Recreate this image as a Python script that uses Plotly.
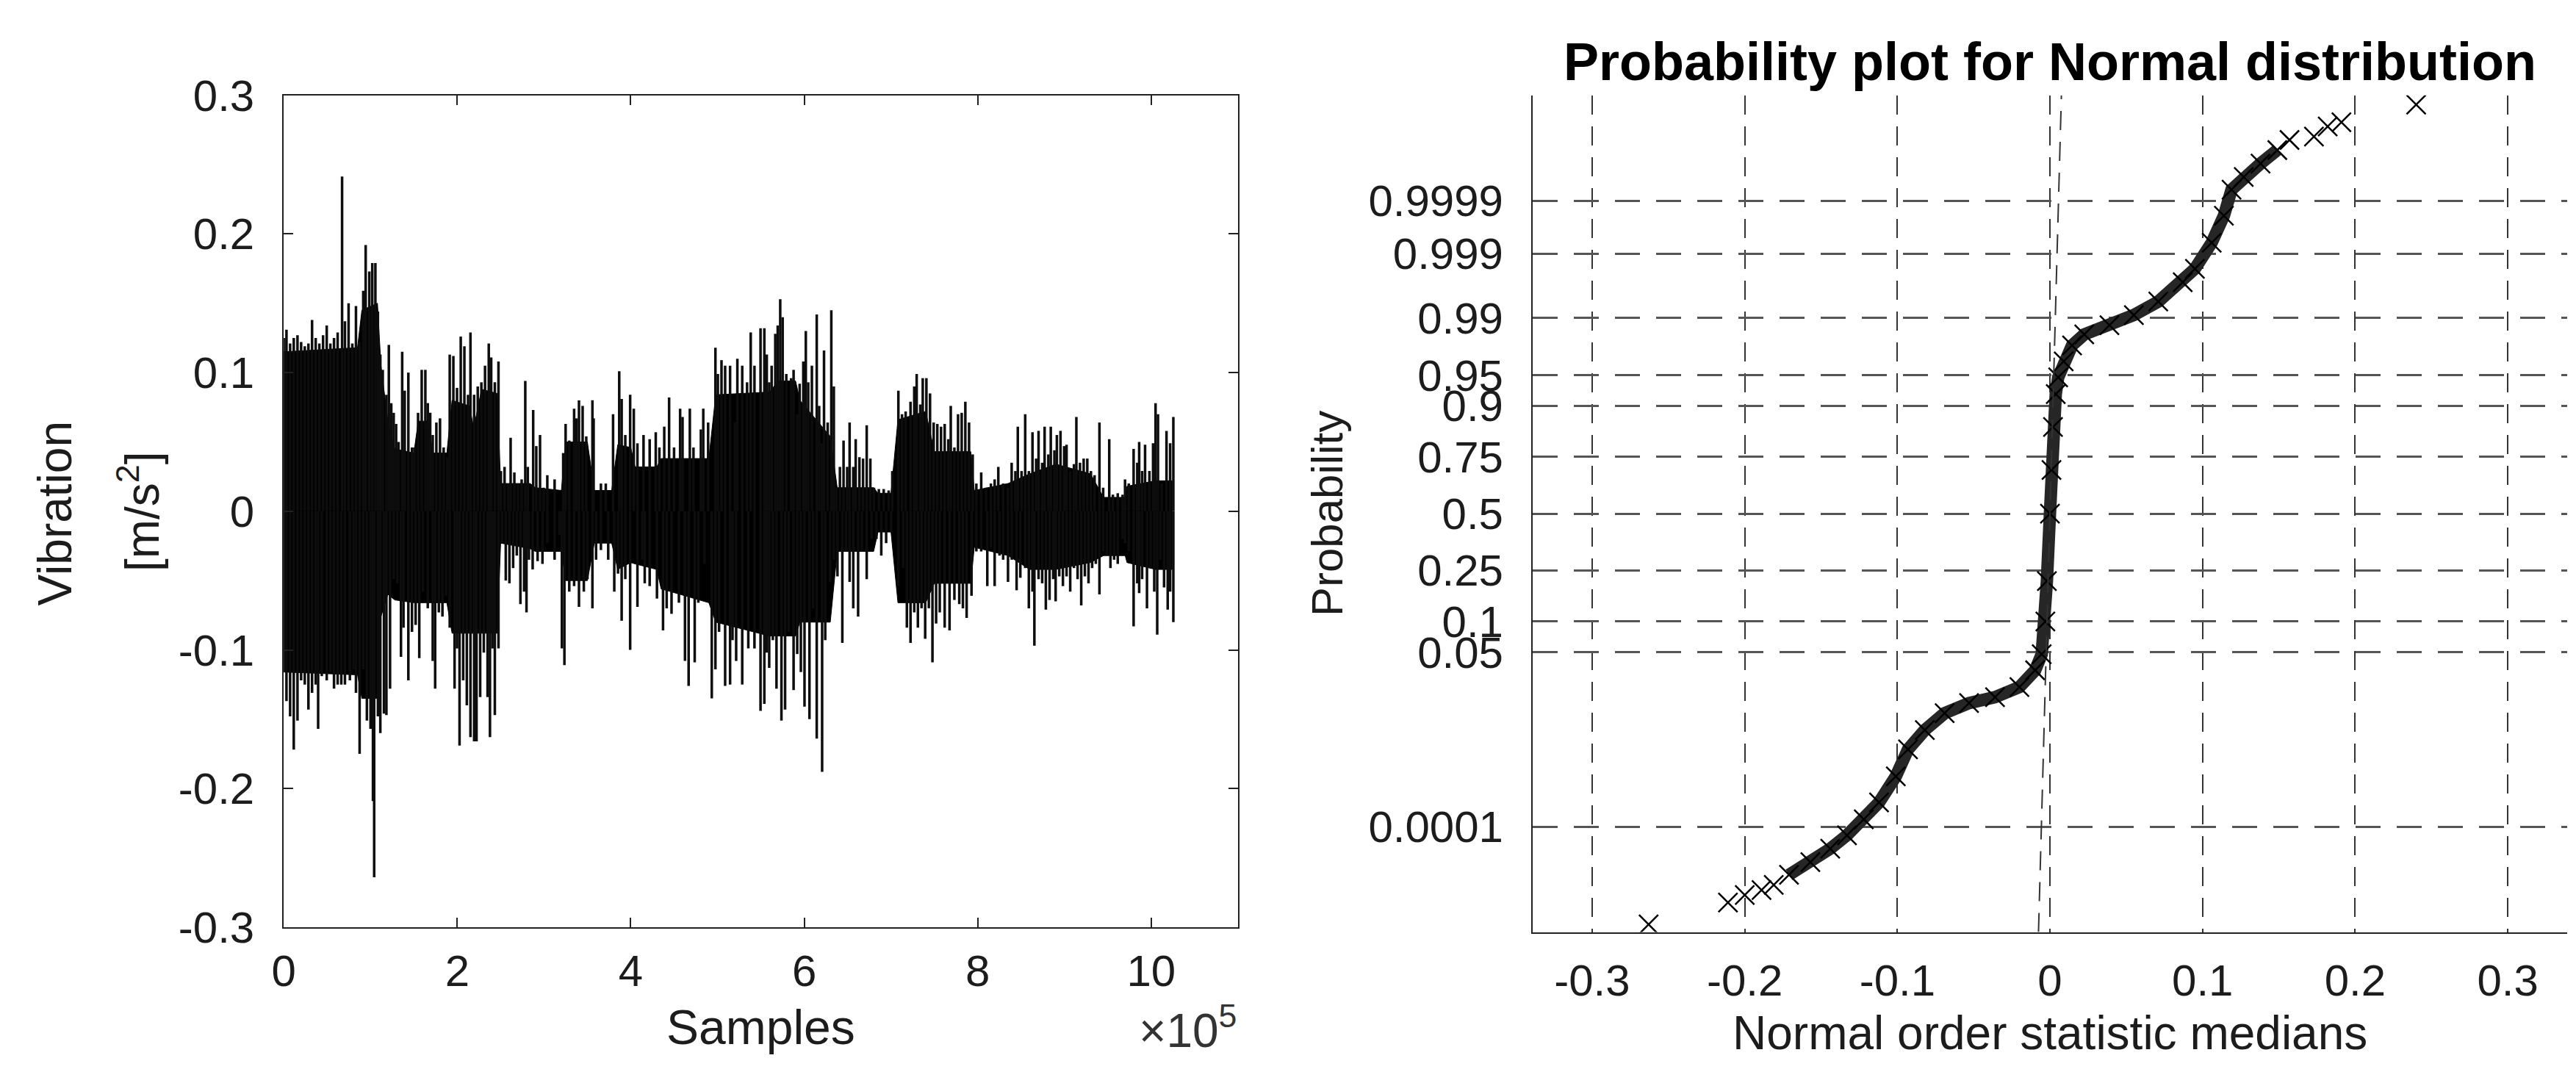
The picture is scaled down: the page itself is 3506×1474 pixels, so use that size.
import plotly.graph_objects as go
from statistics import NormalDist

# ================= Left panel: vibration signal =========
# sample positions are in units of 10^5 samples (the axis multiplier shown on the chart)
core_pos = [0, 0.85, 0.90, 1.08, 1.12, 1.20, 1.28, 1.50, 1.55, 1.66,
            1.72, 1.88, 1.94, 2.14, 2.19, 2.28, 2.46, 2.50, 2.84,
            2.90, 3.20, 3.25, 3.50, 3.58, 3.78, 3.85, 4.00, 4.05,
            4.30, 4.35, 4.90, 4.98, 5.60, 5.70, 5.90, 5.95, 6.30,
            6.38, 6.80, 6.85, 7.00, 7.08, 7.40, 7.50, 7.92, 7.96,
            8.35, 8.60, 8.90, 9.30, 9.45, 9.70, 9.72, 10.05, 10.24]
core_upper = [0.115, 0.118, 0.145, 0.150, 0.105, 0.065, 0.045, 0.042, 0.065, 0.065,
              0.042, 0.042, 0.080, 0.076, 0.060, 0.088, 0.085, 0.020, 0.020,
              0.017, 0.015, 0.050, 0.050, 0.015, 0.015, 0.048, 0.046, 0.032,
              0.032, 0.038, 0.038, 0.084, 0.086, 0.094, 0.094, 0.080, 0.054,
              0.017, 0.017, 0.013, 0.013, 0.066, 0.072, 0.043, 0.043, 0.015,
              0.020, 0.027, 0.034, 0.027, 0.010, 0.010, 0.018, 0.022, 0.022]
core_lower = [-0.116, -0.118, -0.135, -0.135, -0.076, -0.060, -0.064, -0.066, -0.066, -0.066,
              -0.066, -0.066, -0.088, -0.088, -0.088, -0.088, -0.088, -0.023, -0.027,
              -0.029, -0.029, -0.050, -0.050, -0.023, -0.023, -0.042, -0.037, -0.038,
              -0.042, -0.056, -0.066, -0.080, -0.090, -0.090, -0.090, -0.080, -0.080,
              -0.029, -0.029, -0.015, -0.015, -0.066, -0.066, -0.052, -0.052, -0.026,
              -0.032, -0.042, -0.042, -0.037, -0.032, -0.032, -0.037, -0.042, -0.042]

# positive excursions (position, peak)
peak_pos = [0.003, 0.031, 0.073, 0.115, 0.158, 0.200, 0.242, 0.284, 0.326, 0.368, 0.410, 0.453,
            0.495, 0.537, 0.579, 0.621, 0.672, 0.705, 0.747, 0.790, 0.832, 0.874, 0.916, 0.944,
            0.986, 1.020, 1.056, 1.085, 1.113, 1.141, 1.183, 1.211, 1.239, 1.267, 1.295, 1.323,
            1.365, 1.394, 1.436, 1.478, 1.506, 1.548, 1.590, 1.632, 1.660, 1.688, 1.717, 1.759,
            1.801, 1.843, 1.885, 1.913, 1.955, 1.997, 2.040, 2.082, 2.124, 2.152, 2.194, 2.236,
            2.278, 2.320, 2.363, 2.391, 2.433, 2.475, 2.503, 2.545, 2.587, 2.615, 2.658, 2.700,
            2.742, 2.784, 2.813, 2.875, 2.911, 2.954, 2.996, 3.038, 3.122, 3.221, 3.249, 3.291,
            3.347, 3.375, 3.403, 3.445, 3.487, 3.558, 3.572, 3.656, 3.712, 3.796, 3.867, 3.895,
            3.937, 3.993, 4.035, 4.077, 4.147, 4.218, 4.288, 4.330, 4.386, 4.442, 4.499, 4.569,
            4.597, 4.681, 4.723, 4.808, 4.836, 4.892, 4.976, 5.004, 5.046, 5.088, 5.145, 5.201,
            5.229, 5.285, 5.341, 5.383, 5.426, 5.496, 5.540, 5.568, 5.596, 5.624, 5.666, 5.694,
            5.723, 5.751, 5.793, 5.849, 5.877, 5.919, 5.947, 5.989, 6.018, 6.046, 6.088, 6.144,
            6.172, 6.200, 6.228, 6.270, 6.312, 6.341, 6.369, 6.411, 6.453, 6.495, 6.523, 6.565,
            6.593, 6.636, 6.678, 6.720, 6.762, 6.804, 6.860, 6.916, 6.973, 7.015, 7.085, 7.127,
            7.169, 7.225, 7.268, 7.296, 7.338, 7.366, 7.408, 7.450, 7.492, 7.534, 7.577, 7.619,
            7.661, 7.689, 7.731, 7.773, 7.815, 7.857, 7.900, 7.942, 7.984, 8.040, 8.096, 8.152,
            8.195, 8.237, 8.293, 8.349, 8.391, 8.434, 8.462, 8.505, 8.547, 8.589, 8.631, 8.673,
            8.701, 8.743, 8.771, 8.814, 8.842, 8.884, 8.912, 8.954, 8.996, 9.024, 9.066, 9.109,
            9.137, 9.179, 9.221, 9.263, 9.305, 9.347, 9.403, 9.446, 9.516, 9.558, 9.614, 9.670,
            9.698, 9.741, 9.797, 9.839, 9.861, 9.895, 9.929, 9.979, 10.021, 10.050, 10.078,
            10.120, 10.176, 10.218, 10.255]
peak_val = [0.125, 0.131, 0.121, 0.125, 0.127, 0.122, 0.119, 0.121, 0.138, 0.125, 0.121, 0.127,
            0.134, 0.121, 0.125, 0.129, 0.2415, 0.137, 0.150, 0.121, 0.148, 0.122, 0.159, 0.192,
            0.173, 0.179, 0.179, 0.144, 0.113, 0.102, 0.084, 0.120, 0.078, 0.071, 0.063, 0.050,
            0.115, 0.087, 0.100, 0.046, 0.046, 0.071, 0.102, 0.102, 0.078, 0.071, 0.055, 0.064,
            0.067, 0.046, 0.039, 0.113, 0.112, 0.089, 0.126, 0.119, 0.084, 0.129, 0.084, 0.090,
            0.093, 0.105, 0.121, 0.111, 0.093, 0.108, 0.029, 0.032, 0.020, 0.053, 0.028, 0.020,
            0.023, 0.094, 0.032, 0.073, 0.047, 0.055, 0.017, 0.026, 0.023, 0.042, 0.063, 0.051,
            0.074, 0.067, 0.080, 0.076, 0.054, 0.080, 0.067, 0.020, 0.020, 0.070, 0.101, 0.081,
            0.055, 0.084, 0.074, 0.049, 0.055, 0.052, 0.057, 0.046, 0.061, 0.082, 0.046, 0.074,
            0.068, 0.074, 0.046, 0.059, 0.074, 0.064, 0.118, 0.099, 0.109, 0.105, 0.105, 0.064,
            0.110, 0.105, 0.093, 0.129, 0.105, 0.132, 0.132, 0.113, 0.093, 0.105, 0.128, 0.134,
            0.153, 0.140, 0.099, 0.096, 0.102, 0.070, 0.092, 0.108, 0.130, 0.093, 0.105, 0.142,
            0.076, 0.049, 0.116, 0.064, 0.145, 0.090, 0.017, 0.032, 0.051, 0.032, 0.064, 0.032,
            0.052, 0.039, 0.038, 0.062, 0.038, 0.017, 0.016, 0.016, 0.015, 0.029, 0.087, 0.070,
            0.072, 0.079, 0.090, 0.099, 0.077, 0.096, 0.096, 0.085, 0.064, 0.063, 0.061, 0.063,
            0.052, 0.076, 0.046, 0.070, 0.071, 0.079, 0.064, 0.041, 0.020, 0.028, 0.017, 0.020,
            0.023, 0.032, 0.020, 0.017, 0.035, 0.029, 0.061, 0.029, 0.070, 0.029, 0.057, 0.038,
            0.058, 0.035, 0.061, 0.041, 0.061, 0.044, 0.055, 0.058, 0.047, 0.048, 0.029, 0.034,
            0.068, 0.035, 0.038, 0.038, 0.029, 0.026, 0.064, 0.017, 0.052, 0.012, 0.013, 0.012,
            0.023, 0.020, 0.045, 0.035, 0.050, 0.029, 0.048, 0.029, 0.049, 0.078, 0.070,
            0.020, 0.058, 0.049, 0.068]

# negative excursions (position, trough)
dip_pos = [0.003, 0.031, 0.073, 0.115, 0.158, 0.200, 0.242, 0.284, 0.326, 0.368, 0.396, 0.438,
           0.495, 0.537, 0.579, 0.621, 0.663, 0.705, 0.762, 0.804, 0.832, 0.874, 0.916, 0.958,
           1.000, 1.028, 1.042, 1.085, 1.113, 1.155, 1.183, 1.225, 1.267, 1.309, 1.351, 1.380,
           1.436, 1.478, 1.520, 1.562, 1.604, 1.660, 1.717, 1.745, 1.787, 1.829, 1.871, 1.913,
           1.969, 1.997, 2.026, 2.068, 2.110, 2.152, 2.194, 2.222, 2.264, 2.306, 2.349, 2.377,
           2.405, 2.433, 2.475, 2.517, 2.559, 2.601, 2.644, 2.686, 2.728, 2.770, 2.798, 2.826,
           2.869, 2.926, 2.982, 3.038, 3.122, 3.178, 3.206, 3.235, 3.291, 3.347, 3.403, 3.459,
           3.501, 3.558, 3.600, 3.656, 3.740, 3.810, 3.853, 3.895, 3.937, 3.993, 4.077, 4.133,
           4.161, 4.218, 4.302, 4.372, 4.414, 4.470, 4.555, 4.625, 4.667, 4.737, 4.779, 4.850,
           4.934, 4.976, 5.018, 5.088, 5.145, 5.173, 5.215, 5.285, 5.355, 5.426, 5.496, 5.540,
           5.568, 5.596, 5.638, 5.680, 5.737, 5.779, 5.821, 5.877, 5.919, 5.961, 6.003, 6.060,
           6.102, 6.144, 6.206, 6.242, 6.298, 6.341, 6.383, 6.439, 6.481, 6.523, 6.565, 6.621,
           6.664, 6.720, 6.776, 6.832, 6.888, 6.944, 7.001, 7.085, 7.141, 7.183, 7.225, 7.268,
           7.310, 7.352, 7.394, 7.436, 7.478, 7.520, 7.562, 7.619, 7.675, 7.731, 7.787, 7.829,
           7.872, 7.928, 7.984, 8.040, 8.110, 8.152, 8.195, 8.251, 8.293, 8.349, 8.392, 8.448,
           8.491, 8.547, 8.589, 8.631, 8.653, 8.701, 8.743, 8.785, 8.828, 8.870, 8.898, 8.940,
           8.982, 9.024, 9.066, 9.109, 9.151, 9.193, 9.235, 9.277, 9.319, 9.361, 9.403, 9.446,
           9.488, 9.530, 9.572, 9.614, 9.670, 9.698, 9.741, 9.797, 9.839, 9.861, 9.895, 9.951,
           9.993, 10.035, 10.069, 10.106, 10.148, 10.190, 10.218, 10.255]
dip_val = [-0.116, -0.137, -0.148, -0.172, -0.151, -0.122, -0.125, -0.143, -0.131, -0.125, -0.157, -0.119,
           -0.122, -0.116, -0.128, -0.125, -0.125, -0.125, -0.122, -0.114, -0.131, -0.175, -0.114, -0.151,
           -0.157, -0.209, -0.264, -0.148, -0.160, -0.146, -0.147, -0.128, -0.049, -0.052, -0.105, -0.084,
           -0.122, -0.087, -0.082, -0.106, -0.058, -0.070, -0.108, -0.128, -0.073, -0.076, -0.061, -0.084,
           -0.128, -0.099, -0.169, -0.122, -0.140, -0.163, -0.166, -0.166, -0.134, -0.102, -0.134, -0.163,
           -0.099, -0.147, -0.099, -0.023, -0.050, -0.052, -0.041, -0.032, -0.067, -0.058, -0.073, -0.035,
           -0.042, -0.036, -0.038, -0.023, -0.035, -0.017, -0.099, -0.111, -0.058, -0.054, -0.069, -0.058,
           -0.049, -0.070, -0.035, -0.028, -0.035, -0.058, -0.045, -0.079, -0.049, -0.100, -0.069, -0.035,
           -0.052, -0.054, -0.063, -0.086, -0.070, -0.074, -0.066, -0.108, -0.126, -0.109, -0.066, -0.038,
           -0.135, -0.114, -0.087, -0.126, -0.125, -0.093, -0.108, -0.125, -0.099, -0.099, -0.144, -0.139,
           -0.102, -0.113, -0.093, -0.128, -0.151, -0.143, -0.087, -0.129, -0.103, -0.116, -0.141, -0.150,
           -0.070, -0.164, -0.188, -0.093, -0.051, -0.035, -0.047, -0.095, -0.029, -0.051, -0.070, -0.076,
           -0.029, -0.049, -0.020, -0.020, -0.032, -0.023, -0.015, -0.054, -0.041, -0.084, -0.095, -0.073,
           -0.084, -0.070, -0.092, -0.070, -0.109, -0.081, -0.073, -0.084, -0.086, -0.064, -0.067, -0.070,
           -0.077, -0.061, -0.029, -0.029, -0.054, -0.026, -0.054, -0.032, -0.035, -0.051, -0.035, -0.057,
           -0.048, -0.041, -0.070, -0.058, -0.097, -0.049, -0.052, -0.071, -0.064, -0.049, -0.065, -0.047,
           -0.054, -0.047, -0.058, -0.041, -0.049, -0.068, -0.047, -0.052, -0.041, -0.038, -0.060, -0.029,
           -0.032, -0.041, -0.035, -0.038, -0.020, -0.023, -0.029, -0.083, -0.052, -0.059, -0.049, -0.070,
           -0.041, -0.058, -0.089, -0.035, -0.055, -0.071, -0.058, -0.080]

sig_yticks = [-0.3, -0.2, -0.1, 0, 0.1, 0.2, 0.3]
sig_yticklabels = ["-0.3", "-0.2", "-0.1", "0", "0.1", "0.2", "0.3"]
sig_xticks = [0, 2, 4, 6, 8, 10]
sig_xticklabels = ["0", "2", "4", "6", "8", "10"]

# ================= Right panel: normal probability plot ==
qq_x = [-0.263, -0.211, -0.200, -0.189, -0.181, -0.171, -0.157, -0.144, -0.133, -0.122,
        -0.112, -0.101, -0.093, -0.082, -0.069, -0.053, -0.036, -0.020, -0.0097, -0.0054,
        -0.003, -0.002, 0.0, 0.001, 0.002, 0.0038, 0.0054, 0.009, 0.0145, 0.0225,
        0.039, 0.055, 0.071, 0.087, 0.095, 0.106, 0.114, 0.119, 0.127, 0.138,
        0.149, 0.157, 0.173, 0.182, 0.191, 0.240]
qq_z = [-4.88, -4.62, -4.53, -4.47, -4.41, -4.29, -4.14, -3.98, -3.82, -3.63,
        -3.43, -3.12, -2.80, -2.57, -2.37, -2.25, -2.18, -2.06, -1.86, -1.67,
        -1.28, -0.80, 0.0, 0.52, 1.03, 1.42, 1.62, 1.81, 2.00, 2.13,
        2.24, 2.36, 2.52, 2.75, 2.91, 3.22, 3.54, 3.85, 4.00, 4.16,
        4.32, 4.44, 4.48, 4.60, 4.65, 4.86]
ref_line_x = [-0.0075, 0.0075]
ref_line_z = [-4.97, 4.97]
prob_ticks = [0.0001, 0.05, 0.1, 0.25, 0.5, 0.75, 0.9, 0.95, 0.99, 0.999, 0.9999]
prob_ticklabels = ["0.0001", "0.05", "0.1", "0.25", "0.5", "0.75", "0.9", "0.95", "0.99", "0.999", "0.9999"]
qq_xticks = [-0.3, -0.2, -0.1, 0, 0.1, 0.2, 0.3]
qq_xticklabels = ["-0.3", "-0.2", "-0.1", "0", "0.1", "0.2", "0.3"]

W, H = 3506, 1474
FONT = "Liberation Sans, Arial, sans-serif"
TXT = "#1c1c1c"

fig = go.Figure()

# dense core of the signal
fig.add_trace(go.Scatter(
    x=core_pos + core_pos[::-1], y=core_upper + core_lower[::-1],
    fill="toself", fillcolor="black", mode="lines",
    line=dict(color="black", width=1), xaxis="x", yaxis="y", hoverinfo="skip"))

# excursions drawn as vertical strokes from zero
sx, sy = [], []
for p, v in list(zip(peak_pos, peak_val)) + list(zip(dip_pos, dip_val)):
    sx += [p, p, None]
    sy += [0, v, None]
fig.add_trace(go.Scatter(x=sx, y=sy, mode="lines", line=dict(color="#0d0d0d", width=3.5),
                         xaxis="x", yaxis="y", hoverinfo="skip"))

# probability plot: dense body drawn as a thick stroke, every read point as an x marker
body = [i for i, z in enumerate(qq_z) if abs(z) <= 4.35]
fig.add_trace(go.Scatter(
    x=[qq_x[i] for i in body], y=[qq_z[i] for i in body], mode="lines",
    line=dict(color="#262626", width=17), xaxis="x2", yaxis="y2", hoverinfo="skip"))
fig.add_trace(go.Scatter(
    x=qq_x, y=qq_z, mode="markers",
    marker=dict(symbol="x-thin-open", size=26, color="black", line=dict(color="black", width=2.5)),
    xaxis="x2", yaxis="y2", hoverinfo="skip"))
fig.add_trace(go.Scatter(
    x=ref_line_x, y=ref_line_z, mode="lines",
    line=dict(color="#333333", width=2, dash="26px,16px"),
    xaxis="x2", yaxis="y2", hoverinfo="skip"))

nd = NormalDist()
prob_tickvals = [nd.inv_cdf(p) for p in prob_ticks]

L1, R1, T1, B1 = 363, 1668, 93, 1279
L2, R2, T2, B2 = 2071, 3486, 93, 1286
TICKFONT = dict(family=FONT, size=60, color=TXT)

fig.update_layout(
    width=W, height=H, autosize=False,
    margin=dict(l=0, r=0, t=0, b=0),
    paper_bgcolor="white", plot_bgcolor="white",
    showlegend=False,
    font=dict(family=FONT, size=60, color=TXT),
    xaxis=dict(domain=[L1 / W, R1 / W], range=[0, 11],
               tickvals=sig_xticks, ticktext=sig_xticklabels, tickfont=TICKFONT,
               showline=True, linecolor="#222222", linewidth=2, mirror="ticks",
               ticks="inside", ticklen=13, tickwidth=2, tickcolor="#222222",
               showgrid=False, zeroline=False, ticklabelstandoff=6, anchor="y"),
    yaxis=dict(domain=[1 - B1 / H, 1 - T1 / H], range=[-0.3, 0.3],
               tickvals=sig_yticks, ticktext=sig_yticklabels, tickfont=TICKFONT,
               showline=True, linecolor="#222222", linewidth=2, mirror="ticks",
               ticks="inside", ticklen=13, tickwidth=2, tickcolor="#222222",
               showgrid=False, zeroline=False, ticklabelstandoff=26, anchor="x"),
    xaxis2=dict(domain=[L2 / W, R2 / W], range=[-0.339, 0.339],
                tickvals=qq_xticks, ticktext=qq_xticklabels, tickfont=TICKFONT,
                showline=True, linecolor="#222222", linewidth=2, mirror=False,
                ticks="", showgrid=True, gridcolor="#333333", gridwidth=2,
                griddash="26px,16px", zeroline=False, ticklabelstandoff=12, anchor="y2"),
    yaxis2=dict(domain=[1 - B2 / H, 1 - T2 / H], range=[-4.97, 4.97],
                tickvals=prob_tickvals, ticktext=prob_ticklabels, tickfont=TICKFONT,
                showline=True, linecolor="#222222", linewidth=2, mirror=False,
                ticks="", showgrid=True, gridcolor="#555555", gridwidth=3,
                griddash="34px,22px", zeroline=False, ticklabelstandoff=26, anchor="x2"),
)

ann = [
    dict(text="Vibration", x=50 / W, y=1 - 689 / H, textangle=-90, font=dict(size=64)),
    dict(text="[m/s<sup>2</sup>]", x=165 / W, y=1 - 686 / H, textangle=-90, font=dict(size=64)),
    dict(text="Samples", x=(L1 + R1) / 2 / W, y=1 - 1422 / H, font=dict(size=66)),
    dict(text="×10<sup>5</sup>", x=R1 / W, y=1 - 1422 / H, xanchor="right",
         font=dict(size=64, color="#333333")),
    dict(text="<b>Probability plot for Normal distribution</b>", x=2778 / W, y=1 - 45 / H,
         font=dict(size=72, color="black")),
    dict(text="Probability", x=1790 / W, y=1 - 689 / H, textangle=-90, font=dict(size=60)),
    dict(text="Normal order statistic medians", x=2778 / W, y=1 - 1430 / H,
         font=dict(size=64)),
]
for a in ann:
    a.update(xref="paper", yref="paper", showarrow=False, xanchor=a.get("xanchor", "center"),
             yanchor="middle")
fig.update_layout(annotations=ann)

fig.write_html("out.html")
